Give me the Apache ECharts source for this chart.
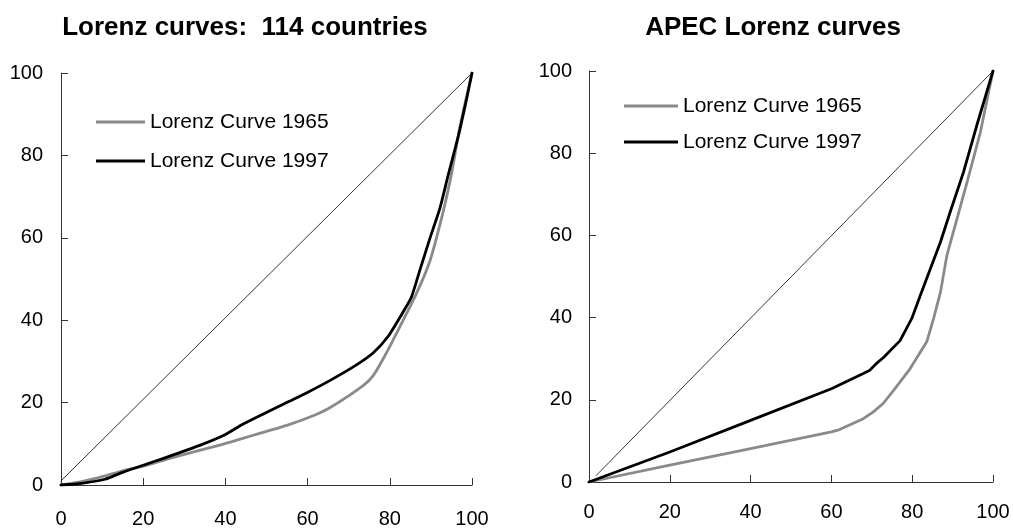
<!DOCTYPE html>
<html>
<head>
<meta charset="utf-8">
<script src="https://cdn.jsdelivr.net/npm/echarts@6/dist/echarts.min.js"></script>
<style>
html,body{margin:0;padding:0;background:#fff;}
#chart{width:1013px;height:529px;}
</style>
</head>
<body>
<div id="chart"></div>
<script>
// ---- Data ----
var titles = ['Lorenz curves:  114 countries', 'APEC Lorenz curves'];
var seriesNames = ['Lorenz Curve 1965', 'Lorenz Curve 1997'];
var axisTicks = [0, 20, 40, 60, 80, 100];

// Left panel: 114 countries
var worldX1965 = [0, 5, 10.7, 14.8, 20, 26.9, 39.1, 47.2, 55.3, 61.8, 65.5, 73.6, 76, 79.2, 82.9, 86.5, 89.8, 93, 95.1, 97.1, 100];
var worldY1965 = [0, 0.8, 2.2, 3.4, 4.6, 6.6, 9.8, 12.2, 14.6, 17.0, 18.8, 24.2, 26.6, 32.1, 39.3, 46.5, 54.5, 66.4, 76, 87.2, 100];
var worldX1997 = [0, 5, 10.7, 14.8, 20, 25.3, 34.2, 39.9, 44, 49.6, 55.3, 60.2, 65.5, 71.5, 76, 79.6, 83.3, 85.3, 87.3, 89.8, 92.2, 94.2, 96.7, 98.3, 100];
var worldY1997 = [0, 0.4, 1.4, 3.0, 4.8, 6.6, 9.8, 12.2, 14.6, 17.4, 20.2, 22.6, 25.4, 28.9, 32.1, 36.1, 42.1, 45.7, 52.1, 60, 67.2, 75.2, 84.8, 91.9, 100];
var worldDiagX = [0, 100];
var worldDiagY = [1, 100];

// Right panel: APEC
var apecX1965 = [0, 20, 40, 60, 61.6, 67.9, 70.3, 72.8, 75.4, 79.5, 83.6, 85.3, 87, 88.6, 91.1, 93.6, 96.9, 100];
var apecY1965 = [0, 4.1, 8.1, 12.2, 12.6, 15.4, 17.0, 19.1, 22.3, 27.6, 34.1, 39.8, 46.2, 55.2, 64.1, 73, 85.2, 100];
var apecX1997 = [0, 20, 40, 60, 67.9, 69.5, 71.1, 72.9, 77, 79.9, 82, 84.5, 87, 89.4, 92.7, 96, 100];
var apecY1997 = [0, 7.3, 15.0, 22.7, 26.4, 27.2, 28.8, 30.3, 34.4, 39.8, 45.4, 51.9, 58.4, 65.7, 75.4, 86.8, 100];
var apecDiagX = [1.8, 100];
var apecDiagY = [1.6, 100];

function zip(xs, ys) { return xs.map(function (x, i) { return [x, ys[i]]; }); }

var FONT = '"Liberation Sans", Arial, Helvetica, sans-serif';
var GRAY = '#8a8a8a';
var BLACK = '#000000';
var AXIS = '#333333';

function axisDef(gridIndex, margin) {
  return {
    type: 'value', gridIndex: gridIndex, min: 0, max: 100, interval: 20,
    splitLine: { show: false },
    axisLine: { show: true, onZero: false, lineStyle: { color: AXIS, width: 1 } },
    axisTick: { show: true, inside: true, length: 7, lineStyle: { color: AXIS, width: 1 } },
    axisLabel: { show: true, margin: margin, color: '#000', fontSize: 20, fontFamily: FONT,
      formatter: function (v) { return axisTicks.indexOf(v) >= 0 ? String(v) : ''; } }
  };
}
function lineSeries(name, idx, data, color, width, z, smooth) {
  return {
    name: name, type: 'line', xAxisIndex: idx, yAxisIndex: idx,
    data: data, symbol: 'none', showSymbol: false,
    smooth: smooth, silent: true,
    lineStyle: { color: color, width: width, join: 'round', cap: 'round' }, itemStyle: { color: color },
    z: z, animation: false
  };
}
function legendDef(left, top, gap, w) {
  return {
    orient: 'vertical', left: left, top: top, padding: 0, itemGap: gap,
    itemWidth: w, itemHeight: 3, icon: 'rect', selectedMode: false,
    data: seriesNames,
    textStyle: { fontSize: 21, lineHeight: 24, color: '#000', fontFamily: FONT }
  };
}

var chart = echarts.init(document.getElementById('chart'), null, { renderer: 'canvas' });
chart.setOption({
  animation: false,
  backgroundColor: '#ffffff',
  textStyle: { fontFamily: FONT },
  title: [
    { text: titles[0], left: 245, top: 15, padding: 0, textAlign: 'center',
      textStyle: { fontSize: 26, fontWeight: 'bold', color: '#000', fontFamily: FONT } },
    { text: titles[1], left: 773, top: 15, padding: 0, textAlign: 'center',
      textStyle: { fontSize: 26, fontWeight: 'bold', color: '#000', fontFamily: FONT } }
  ],
  legend: [legendDef(96, 110, 15, 49), legendDef(624, 94, 12, 54)],
  grid: [
    { left: 61, right: 541, top: 73, bottom: 38, containLabel: false },
    { left: 589, right: 20, top: 71, bottom: 47, containLabel: false }
  ],
  xAxis: [axisDef(0, 24), axisDef(1, 20)],
  yAxis: [axisDef(0, 18), axisDef(1, 17)],
  series: [
    lineSeries('equality-left', 0, zip(worldDiagX, worldDiagY), BLACK, 0.8, 1, false),
    lineSeries(seriesNames[0], 0, zip(worldX1965, worldY1965), GRAY, 2.8, 2, 0.2),
    lineSeries(seriesNames[1], 0, zip(worldX1997, worldY1997), BLACK, 2.8, 3, 0.2),
    lineSeries('equality-right', 1, zip(apecDiagX, apecDiagY), BLACK, 0.8, 1, false),
    lineSeries(seriesNames[0], 1, zip(apecX1965, apecY1965), GRAY, 2.8, 2, false),
    lineSeries(seriesNames[1], 1, zip(apecX1997, apecY1997), BLACK, 2.8, 3, false)
  ]
});
</script>
</body>
</html>
